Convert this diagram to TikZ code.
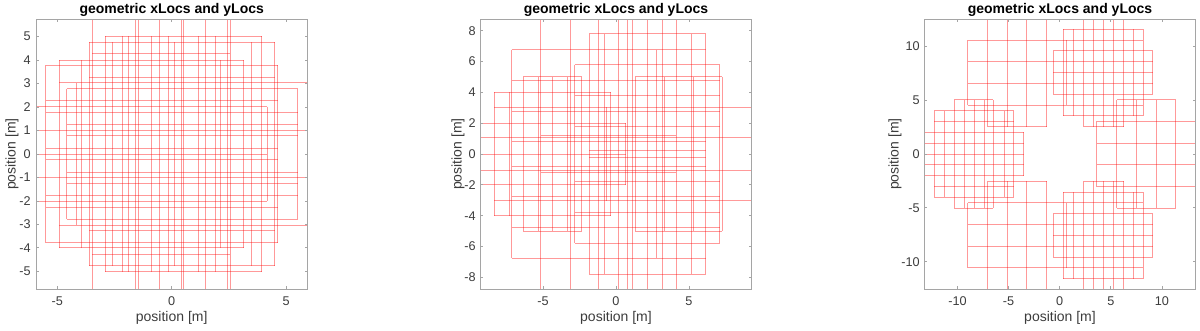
\documentclass[tikz,border=0pt]{standalone}
\usepackage{fontspec}
\setmainfont{Liberation Sans}
\definecolor{axgray}{RGB}{165,165,165}
\definecolor{tickc}{RGB}{60,60,60}
\tikzset{
  gl/.style={draw=red, draw opacity=0.4, line width=0.75pt},
  ticklab/.style={font=\fontsize{9.5}{11}\selectfont, text=tickc, inner sep=0pt},
  axlab/.style={font=\fontsize{10.5}{12}\selectfont, text=tickc, inner sep=0pt},
  ttl/.style={font=\bfseries\fontsize{10.5}{12}\selectfont, inner sep=0pt},
  axbox/.style={draw=axgray, line width=0.6pt},
}
% horizontal lines, mirrored about y=0 ; pixel-snapped
\newcommand{\myhlines}[1]{%
  \foreach \yy/\aa/\bb in {#1} {%
    \pgfmathsetmacro\qa{\pncx+\aa*\pnux}\pgfmathsetmacro\qb{\pncx+\bb*\pnux}%
    \pgfmathsetmacro\qu{floor(\pncy-\yy*\pnuy)+0.5}\pgfmathsetmacro\qd{floor(\pncy+\yy*\pnuy)+0.5}%
    \draw[gl] (\qa,\qu) -- (\qb,\qu); \draw[gl] (\qa,\qd) -- (\qb,\qd);}}
% vertical lines symmetric about y=0
\newcommand{\myvlines}[1]{%
  \foreach \xx/\hh in {#1} {%
    \pgfmathsetmacro\qx{floor(\pncx+\xx*\pnux)+0.5}%
    \pgfmathsetmacro\qu{\pncy-\hh*\pnuy}\pgfmathsetmacro\qd{\pncy+\hh*\pnuy}%
    \draw[gl] (\qx,\qu) -- (\qx,\qd);}}
% vertical segments, mirrored about y=0
\newcommand{\myvsegs}[1]{%
  \foreach \xx/\ya/\yb in {#1} {%
    \pgfmathsetmacro\qx{floor(\pncx+\xx*\pnux)+0.5}%
    \pgfmathsetmacro\qa{\pncy-\ya*\pnuy}\pgfmathsetmacro\qb{\pncy-\yb*\pnuy}%
    \pgfmathsetmacro\qc{\pncy+\ya*\pnuy}\pgfmathsetmacro\qd{\pncy+\yb*\pnuy}%
    \draw[gl] (\qx,\qa) -- (\qx,\qb); \draw[gl] (\qx,\qc) -- (\qx,\qd);}}
\begin{document}
\begin{tikzpicture}[x=0.75pt,y=-0.75pt]
\useasboundingbox (0,0) rectangle (1200,330);

% ================= Panel 1 =================
\begin{scope}
\clip (36,19) rectangle (307.3,289);
\def\pncx{171.67}\def\pncy{154}\def\pnux{22.87}\def\pnuy{23.47}
\myhlines{5.01/-2.90/3.94, 4.77/-3.60/4.50, 4.275/-3.48/2.57, 4.0/-4.91/3.15,
  3.78/-5.50/4.63, 3.27/-3.60/4.50, 3.03/-4.91/9, 2.77/-4.59/5.51, 2.27/-5.50/4.63,
  2.02/-9/4.17, 1.78/-5.50/5.51, 1.26/-4.59/5.51, 1.02/-9/9, 0.77/-4.59/5.51, 0.25/-5.50/4.63}
\draw[gl] (0,154.5) -- (267,154.5);
\myvlines{-5.50/3.78, -4.91/4.0, -4.59/2.77, -4.15/3.03, -3.93/4.0, -3.60/4.77,
  -3.48/9, -2.90/5.01, -2.58/4.77, -2.14/5.01, -1.90/5.01, -1.56/9, -1.47/9, -0.87/5.01,
  -0.55/9, -0.13/5.01, 0.13/4.77, 0.44/9, 0.51/9, 1.17/5.01, 1.46/9, 1.91/5.01, 2.13/4.0,
  2.46/9, 2.56/9, 3.15/4.0, 3.47/4.77, 3.94/5.01, 4.17/2.02, 4.50/4.77, 4.63/3.78, 5.51/2.77}
\end{scope}
\draw[axbox] (36,19) rectangle (307.3,289);
\foreach \t [count=\i] in {-5,0,5} {
  \pgfmathsetmacro\X{171.67+\t*22.87}
  \draw[axbox] (\X,289) -- (\X,286.3);
  \draw[axbox] (\X,19) -- (\X,21.7);
  \node[ticklab] (pax\i) at (\X,301) {\t};
}
\foreach \t [count=\i] in {-5,-4,-3,-2,-1,0,1,2,3,4,5} {
  \pgfmathsetmacro\Y{154-\t*23.47}
  \draw[axbox] (36,\Y) -- (38.7,\Y);
  \draw[axbox] (307.3,\Y) -- (304.6,\Y);
  \node[ticklab, anchor=east] (pay\i) at (31,\Y) {\t};
}
\node[ttl] (pat) at (171.7,10) {geometric xLocs and yLocs};
\node[axlab] (paxl) at (171.7,318) {position [m]};
\node[axlab, rotate=90] (payl) at (12,154) {position [m]};

% ================= Panel 2 =================
\begin{scope}
\clip (480.3,19) rectangle (751.7,289);
\def\pncx{616}\def\pncy{154}\def\pnux{14.6}\def\pnuy{15.42}
\myhlines{7.80/-1.83/6.14, 6.77/-7.15/6.14, 5.79/-2.81/7.12, 5.00/-6.35/-2.35,
  5.00/1.33/7.28, 4.78/-7.15/7.12, 4.02/-8.33/-0.37, 3.80/-2.81/7.12, 3.03/-8.33/12,
  2.77/-7.15/7.12, 2.01/-12/0.66, 1.79/-2.81/7.12, 1.21/-5.13/4.13, 1.04/-12/12,
  0.80/-7.15/6.14, 0.24/-1.83/6.14}
\draw[gl] (470,154.5) -- (625.6,154.5);
\myvlines{-8.33/4.02, -7.31/4.02, -7.15/6.77, -6.35/5.0, -5.32/5.0, -5.14/12,
  -4.34/5.0, -3.33/5.0, -3.15/12, -2.81/5.79, -2.35/5.0, -1.83/7.8, -1.21/12, -0.82/7.8,
  -0.64/3.03, -0.37/4.02, 0.18/12, 0.66/2.01, 0.80/12, 1.14/12, 1.33/5.0, 2.17/12,
  2.79/6.77, 3.20/12, 3.31/5.0, 4.13/12, 5.14/7.8, 5.30/5.0, 6.14/7.8, 7.12/5.79, 7.28/5.0}
\end{scope}
\draw[axbox] (480.3,19) rectangle (751.7,289);
\foreach \t [count=\i] in {-5,0,5} {
  \pgfmathsetmacro\X{616+\t*14.6}
  \draw[axbox] (\X,289) -- (\X,286.3);
  \draw[axbox] (\X,19) -- (\X,21.7);
  \node[ticklab] (pbx\i) at (\X,301) {\t};
}
\foreach \t [count=\i] in {-8,-6,-4,-2,0,2,4,6,8} {
  \pgfmathsetmacro\Y{154-\t*15.42}
  \draw[axbox] (480.3,\Y) -- (483,\Y);
  \draw[axbox] (751.7,\Y) -- (749,\Y);
  \node[ticklab, anchor=east] (pby\i) at (476,\Y) {\t};
}
\node[ttl] (pbt) at (616,10) {geometric xLocs and yLocs};
\node[axlab] (pbxl) at (616,318) {position [m]};
\node[axlab, rotate=90] (pbyl) at (458,154) {position [m]};

% ================= Panel 3 =================
\begin{scope}
\clip (924.3,19) rectangle (1195.7,289);
\def\pncx{1059.7}\def\pncy{154}\def\pnux{10.22}\def\pnuy{10.77}
\myhlines{11.6/0.37/8.17, 10.57/-9.02/8.17, 9.58/-0.61/9.11, 8.6/-9.02/9.11,
  7.6/-0.61/9.11, 6.58/-9.02/9.11, 5.56/-0.61/9.11, 5.02/-10.32/-6.48, 5.02/5.59/11.36,
  4.53/-9.02/8.17, 4.01/-12.28/-4.52, 3.55/0.37/8.17, 3.02/-12.28/-4.52, 3.02/3.63/20,
  2.55/-7.06/-1.26, 2.55/2.33/6.25, 2.0/-20/-3.54, 1.0/-20/-3.54, 1.0/3.63/20}
\draw[gl] (900,154.5) -- (1023.5,154.5);
\myvlines{-12.28/4.01, -11.24/4.01, -10.32/5.02, -9.28/5.02, -8.37/5.02,
  -7.39/5.02, -6.48/5.02, -5.43/4.01, -4.52/4.01, -3.54/2.0, 3.63/3.02, 5.59/5.02,
  7.55/5.02, 9.44/5.02, 11.36/5.02}
\myvsegs{-7.06/2.55/20, -5.11/2.55/20, -3.21/2.55/20, -1.26/2.55/20,
  2.33/2.55/20, 3.31/2.55/20, 4.29/2.55/20, 5.27/2.55/20, 6.25/2.55/20,
  -9.02/4.53/10.57, 0.70/4.53/10.57, 0.37/3.55/11.6, 1.35/3.55/11.6, 7.22/3.55/11.6,
  8.17/3.55/11.6, -0.61/5.56/9.58, 9.11/5.56/9.58}
\end{scope}
\draw[axbox] (924.3,19) rectangle (1195.7,289);
\foreach \t [count=\i] in {-10,-5,0,5,10} {
  \pgfmathsetmacro\X{1059.7+\t*10.22}
  \draw[axbox] (\X,289) -- (\X,286.3);
  \draw[axbox] (\X,19) -- (\X,21.7);
  \node[ticklab] (pcx\i) at (\X,301) {\t};
}
\foreach \t [count=\i] in {-10,-5,0,5,10} {
  \pgfmathsetmacro\Y{154-\t*10.77}
  \draw[axbox] (924.3,\Y) -- (927,\Y);
  \draw[axbox] (1195.7,\Y) -- (1193,\Y);
  \node[ticklab, anchor=east] (pcy\i) at (920,\Y) {\t};
}
\node[ttl] (pct) at (1060,10) {geometric xLocs and yLocs};
\node[axlab] (pcxl) at (1060,318) {position [m]};
\node[axlab, rotate=90] (pcyl) at (895,154) {position [m]};
\end{tikzpicture}
\end{document}
